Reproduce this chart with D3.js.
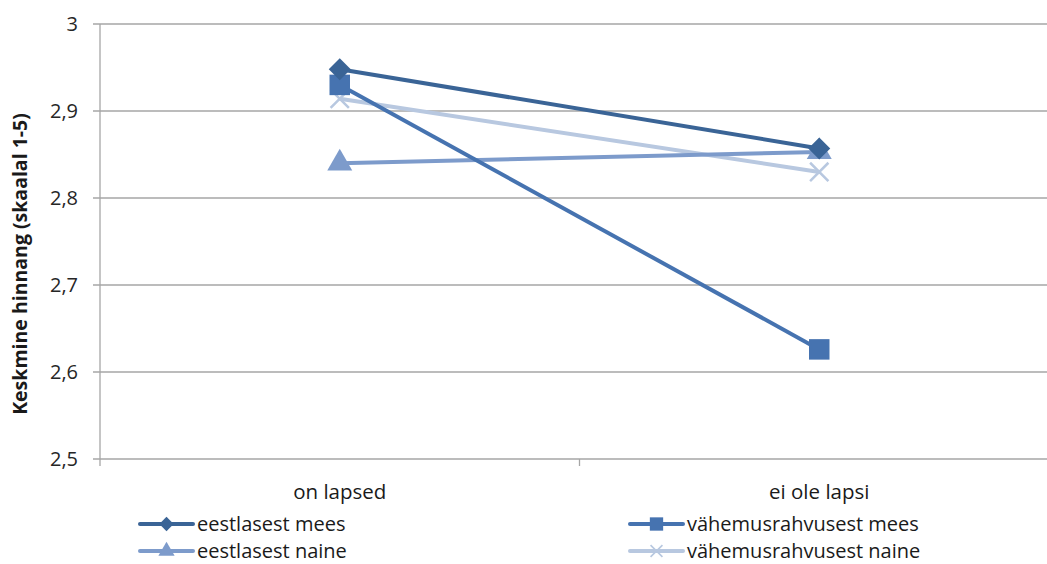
<!doctype html>
<meta charset="utf-8">
<style>
  body { margin: 0; background: #fff; }
  text { font-family: "Open Sans", "Liberation Sans", sans-serif; fill: #1a1a1a; }
</style>
<body>
<script src="https://cdn.jsdelivr.net/npm/d3@7"></script>
<script>
// chart data
let categories = ["on lapsed", "ei ole lapsi"];
let seriesNames = ["eestlasest mees", "vähemusrahvusest mees", "eestlasest naine", "vähemusrahvusest naine"];
let eestiMees = [2.948, 2.857];
let vahemusMees = [2.930, 2.626];
let eestiNaine = [2.840, 2.853];
let vahemusNaine = [2.914, 2.830];
let yTicks = [2.5, 2.6, 2.7, 2.8, 2.9, 3];

let colors = ["#3a6496", "#4673b0", "#7d9bcb", "#b8c8e0"];
let symbols = ["diamond", "square", "triangle", "cross"];
let values = [eestiMees, vahemusMees, eestiNaine, vahemusNaine];

let width = 1047, height = 564;
let margin = {top: 24, left: 100, bottom: 105, right: -12};

let svg = d3.select("body").append("svg")
    .attr("width", width)
    .attr("height", height);

let x = d3.scaleBand()
    .domain(categories)
    .range([margin.left, width - margin.right]);

let y = d3.scaleLinear()
    .domain([2.5, 3])
    .range([height - margin.bottom, margin.top]);

// gridlines
svg.append("g")
  .selectAll("line")
  .data(yTicks)
  .enter().append("line")
    .attr("x1", margin.left - 7)
    .attr("x2", width)
    .attr("y1", d => y(d))
    .attr("y2", d => y(d))
    .attr("stroke", "#a6a6a6")
    .attr("stroke-width", 1.3);

// y axis line
svg.append("line")
    .attr("x1", margin.left).attr("x2", margin.left)
    .attr("y1", y(3)).attr("y2", y(2.5))
    .attr("stroke", "#a6a6a6").attr("stroke-width", 1.3);

// x ticks
let xTickPos = [margin.left, x(categories[1])];
svg.append("g")
  .selectAll("line")
  .data(xTickPos)
  .enter().append("line")
    .attr("x1", d => d).attr("x2", d => d)
    .attr("y1", y(2.5)).attr("y2", y(2.5) + 7)
    .attr("stroke", "#a6a6a6").attr("stroke-width", 1.3);

// y tick labels
svg.append("g")
  .selectAll("text")
  .data(yTicks)
  .enter().append("text")
    .attr("x", margin.left - 22)
    .attr("y", d => y(d))
    .attr("dy", "0.35em")
    .attr("text-anchor", "end")
    .style("font-size", "20px")
    .style("fill", "#262626")
    .text(d => d3.format(".1f")(d).replace(".", ",").replace(",0", ""));

// category labels
svg.append("g")
  .selectAll("text")
  .data(categories)
  .enter().append("text")
    .attr("x", d => x(d) + x.bandwidth() / 2)
    .attr("y", 499)
    .attr("text-anchor", "middle")
    .style("font-size", "20.5px")
    .text(d => d);

// y axis title
svg.append("text")
    .attr("transform", "translate(27,264) rotate(-90)")
    .attr("text-anchor", "middle")
    .style("font-size", "19.5px")
    .style("font-weight", "bold")
    .text("Keskmine hinnang (skaalal 1-5)");

let symbolType = {
  square: d3.symbolSquare,
  triangle: d3.symbolTriangle,
  cross: d3.symbolX
};
let symbolSize = {square: 420, triangle: 270, cross: 220};

function drawMarker(g, s, color) {
  let path;
  if (s === "diamond") {
    path = g.append("path").attr("d", "M0,-11L11,0L0,11L-11,0Z");
  } else {
    path = g.append("path")
        .attr("d", d3.symbol().type(symbolType[s]).size(symbolSize[s])());
  }
  if (s === "cross") {
    path.attr("fill", "none").attr("stroke", color).attr("stroke-width", 2.5);
  } else {
    path.attr("fill", color);
  }
  return path;
}

let line = d3.line()
    .x((d, i) => x(categories[i]) + x.bandwidth() / 2)
    .y(d => y(d));

// series lines, drawn in reverse so the first series sits on top
let order = [3, 2, 1, 0];
order.forEach(k => {
  let g = svg.append("g");
  g.append("path")
      .datum(values[k])
      .attr("d", line)
      .attr("fill", "none")
      .attr("stroke", colors[k])
      .attr("stroke-width", 4);
  values[k].forEach((v, i) => {
    let m = g.append("g")
        .attr("transform", "translate(" + (x(categories[i]) + x.bandwidth() / 2) + "," + y(v) + ")");
    drawMarker(m, symbols[k], colors[k]);
  });
});

// legend
let legendPos = [[140, 524], [630, 524], [140, 551], [630, 551]];
seriesNames.forEach((name, k) => {
  let g = svg.append("g")
      .attr("transform", "translate(" + legendPos[k][0] + "," + legendPos[k][1] + ")");
  g.append("line")
      .attr("x1", 0).attr("x2", 53)
      .attr("stroke", colors[k])
      .attr("stroke-width", 4)
      .attr("stroke-linecap", "round");
  let m = g.append("g").attr("transform", "translate(26.5,0)");
  drawMarker(m, symbols[k], colors[k]).attr("transform", "scale(0.65)");
  g.append("text")
      .attr("x", 57)
      .attr("dy", "0.35em")
      .style("font-size", "20px")
      .text(name);
});
</script>
</body>
